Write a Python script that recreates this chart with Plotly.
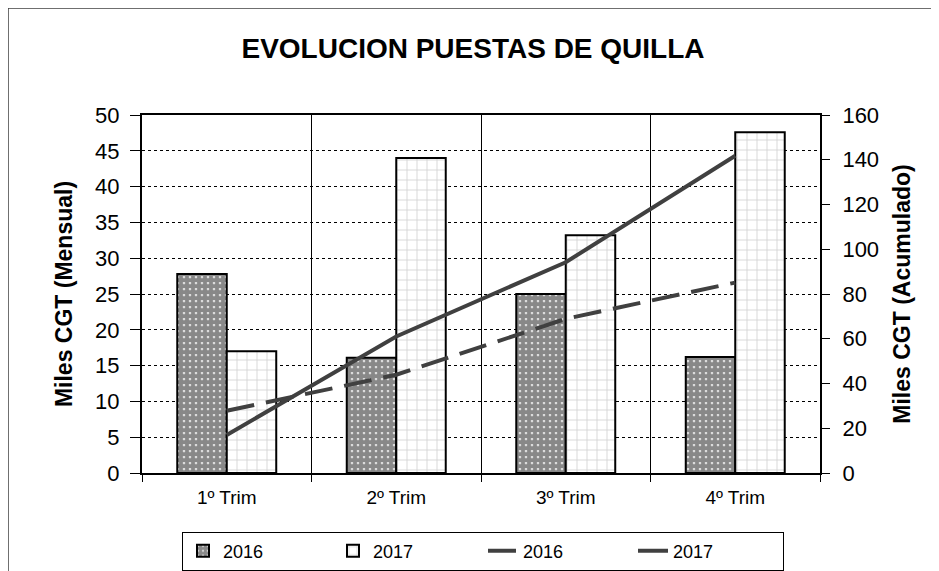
import plotly.graph_objects as go

categories = ["1º Trim", "2º Trim", "3º Trim", "4º Trim"]
bars_2016 = [27.8, 16.1, 25.0, 16.2]
bars_2017 = [17.0, 44.0, 33.2, 47.6]
cum_2016 = [27.8, 43.9, 68.9, 85.1]
cum_2017 = [17.0, 61.0, 94.2, 141.8]
left_ticks = [0, 5, 10, 15, 20, 25, 30, 35, 40, 45, 50]
right_ticks = [0, 20, 40, 60, 80, 100, 120, 140, 160]

FONT = "Liberation Sans, Arial, sans-serif"

fig = go.Figure()
fig.add_trace(go.Bar(
    x=categories, y=bars_2016, name="2016",
    marker=dict(color="white", line=dict(color="black", width=2),
                pattern=dict(shape=".", fgcolor="#111111", bgcolor="white",
                             size=6, solidity=0.82, fillmode="overlay")),
))
fig.add_trace(go.Bar(
    x=categories, y=bars_2017, name="2017",
    marker=dict(color="white", line=dict(color="black", width=2),
                pattern=dict(shape="+", fgcolor="#a0a0a0", bgcolor="white",
                             size=10, solidity=0.15, fillmode="overlay")),
))
fig.add_trace(go.Scatter(
    x=categories, y=cum_2016, name="2016", yaxis="y2", mode="lines",
    line=dict(color="#404040", width=4, dash="28px,12px"),
))
fig.add_trace(go.Scatter(
    x=categories, y=cum_2017, name="2017", yaxis="y2", mode="lines",
    line=dict(color="#404040", width=4),
))

# page body adds an 8px offset, so layout positions are in figure coords
OFF = 8
L, R, T, B = 142 - OFF, 820 - OFF, 115 - OFF, 473 - OFF
W, H = 939, 571
pw, ph = R - L, B - T

def px(x):
    return (x - L) / pw

def py(y):
    return (B - y) / ph

fig.update_layout(
    width=W, height=H,
    margin=dict(l=L, r=W - R, t=T, b=H - B, pad=0, autoexpand=False),
    paper_bgcolor="white", plot_bgcolor="white",
    font=dict(family=FONT, color="black"),
    barmode="group", bargap=0.416, bargroupgap=0,
    title=dict(text="<b>EVOLUCION PUESTAS DE QUILLA</b>", x=px(473 - OFF), xanchor="center",
               xref="paper",
               y=1 - (48 - OFF) / H, yanchor="middle", font=dict(size=28, family=FONT)),
    xaxis=dict(
        tickson="boundaries", showgrid=True, gridcolor="black", gridwidth=1,
        ticks="outside", ticklen=7, tickcolor="black", tickwidth=1,
        showline=True, linecolor="black", linewidth=2, mirror=True,
        tickfont=dict(size=19, family=FONT), ticklabelstandoff=6,
        automargin=False,
    ),
    yaxis=dict(
        range=[0, 50], tickvals=left_ticks, showgrid=True, gridcolor="black",
        griddash="dot", gridwidth=1, zeroline=False,
        ticks="outside", ticklen=10, tickcolor="black", tickwidth=1,
        showline=True, linecolor="black", linewidth=2,
        tickfont=dict(size=22, family=FONT), ticklabelstandoff=6,
        automargin=False,
        title=dict(text="<b>Miles CGT (Mensual)</b>", font=dict(size=23, family=FONT), standoff=16),
    ),
    yaxis2=dict(
        range=[0, 160], tickvals=right_ticks, overlaying="y", side="right",
        showgrid=False, zeroline=False,
        ticks="outside", ticklen=8, tickcolor="black", tickwidth=1,
        showline=True, linecolor="black", linewidth=2,
        tickfont=dict(size=22, family=FONT), ticklabelstandoff=8,
        automargin=False,
        title=dict(text="<b>Miles CGT (Acumulado)</b>", font=dict(size=23, family=FONT), standoff=16),
    ),
    legend=dict(
        orientation="h", x=px(483 - OFF), xanchor="center", y=py(551 - OFF), yanchor="middle",
        bordercolor="black", borderwidth=1, bgcolor="white",
        font=dict(size=18, family=FONT), entrywidth=105, entrywidthmode="pixels",
        traceorder="normal",
    ),
    showlegend=True,
)

fig.add_shape(type="rect", xref="paper", yref="paper",
              x0=px(0), x1=px(W + 30), y0=py(H + 30), y1=py(0),
              line=dict(color="#404040", width=1.5), fillcolor="rgba(0,0,0,0)", layer="below")

fig.write_html("out.html")
